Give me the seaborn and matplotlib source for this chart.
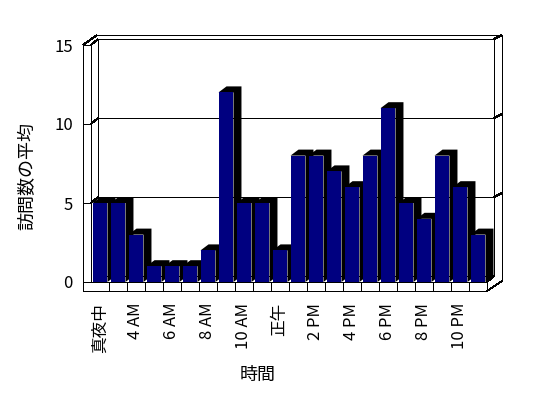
import matplotlib
matplotlib.use("Agg")
import matplotlib.pyplot as plt
from matplotlib.transforms import Affine2D
from matplotlib.patches import Polygon
import seaborn as sns
import pandas as pd

# ---- data ----
hours = ["真夜中", "1 AM", "4 AM", "5 AM", "6 AM", "7 AM", "8 AM", "9 AM",
         "10 AM", "11 AM", "正午", "1 PM", "2 PM", "3 PM", "4 PM", "5 PM",
         "6 PM", "7 PM", "8 PM", "9 PM", "10 PM", "11 PM"]
visits = [5, 5, 3, 1, 1, 1, 2, 12, 5, 5, 2, 8, 8, 7, 6, 8, 11, 5, 4, 8, 6, 3]
y_ticks = [0, 5, 10, 15]
x_title = "時間"
y_title = "訪問数の平均"

sns.set_theme(style="white")
plt.rcParams['font.family'] = ['Noto Sans CJK JP', 'DejaVu Sans']

W, H = 548, 398
fig = plt.figure(figsize=(W / 100, H / 100), dpi=100)
ax = fig.add_axes([91 / W, (H - 282) / H, 396 / W, 237 / H])

df = pd.DataFrame({"hour": hours, "visits": visits})
sns.barplot(data=df, x="hour", y="visits", color="#000080", saturation=1,
            width=0.83, ax=ax, zorder=3, edgecolor="none", linewidth=0)

n = len(hours)
ax.set_xlim(-0.5, n - 0.5)
ax.set_ylim(0, 15)
for s in ax.spines.values():
    s.set_visible(False)
ax.grid(False)

fig.canvas.draw()
p0 = ax.transData.transform((0, 0))
p1 = ax.transData.transform((1, 1))
sx, sy = p1[0] - p0[0], p1[1] - p0[1]

# bar depth (black side/top)
bdx, bdy = 8 / sx, 6 / sy
for p in list(ax.patches):
    x0, w, h = p.get_x(), p.get_width(), p.get_height()
    x1 = x0 + w
    verts = [(x0, h), (x0 + bdx, h + bdy), (x1 + bdx, h + bdy),
             (x1 + bdx, bdy), (x1, 0), (x1, h)]
    ax.add_patch(Polygon(verts, closed=True, facecolor="black",
                         edgecolor="none", zorder=2, clip_on=False))


def T(dx, dy):
    return ax.transData + Affine2D().translate(dx, dy)


def seg(pa, oa, pb, ob, z=1):
    # draw segment between data point pa (pixel offset oa) and pb (offset ob)
    a = T(*oa).transform(pa)
    b = T(*ob).transform(pb)
    inv = ax.transData.inverted()
    a, b = inv.transform(a), inv.transform(b)
    ax.plot([a[0], b[0]], [a[1], b[1]], color="black", lw=0.72,
            zorder=z, clip_on=False, solid_capstyle="butt",
            antialiased=False)


xl, xr = -0.5, n - 0.5
IN = (7, 6)
OUT = (15, 10)
# back wall inner face
seg((xl, 15), IN, (xr, 15), IN)
seg((xl, 0), IN, (xl, 15), IN)
seg((xr, 0), IN, (xr, 15), IN)
seg((xl, 0), IN, (xr, 0), IN)
for g in y_ticks[1:-1]:
    seg((xl, g), IN, (xr, g), IN)
    seg((xl, g), (0, 0), (xl, g), IN)
    seg((xr, g), IN, (xr, g), OUT, z=4)
# top-left corner and outer top/right
seg((xl, 15), (0, 0), (xl, 15), IN, z=4)
seg((xl, 15), (-8, 0), (xl, 15), (6, 10), z=4)
seg((xl, 15), (6, 10), (xr, 15), OUT, z=4)
seg((xr, 15), IN, (xr, 15), OUT, z=4)
seg((xr, 15), OUT, (xr, 0), (15, 1), z=4)
seg((xr, 0), (15, 1), (xr, 0), (0, -9), z=4)
seg((xr, 0), (0, 0), (xr, 0), IN, z=4)
# left wall front face
seg((xl, 15), (-8, 0), (xl, 0), (-8, -9), z=4)
seg((xl, 15), (0, 0), (xl, 0), (0, 0), z=4)
seg((xl, 15), (-8, 0), (xl, 15), (0, 0), z=4)
for g in y_ticks[1:-1]:
    seg((xl, g), (-8, 0), (xl, g), (0, 0), z=4)
# floor front face
seg((xl, 0), (-8, 0), (xr, 0), (0, 0), z=4)
seg((xl, 0), (-8, -9), (xr, 0), (0, -9), z=4)
seg((xr, 0), (0, 0), (xr, 0), (0, -9), z=4)
for i in range(n - 1):
    seg((i + 0.5, 0), (0, 0), (i + 0.5, 0), (0, -9), z=4)

# ticks and labels
ax.set_yticks(y_ticks)
ax.set_yticklabels([str(v) for v in y_ticks])
ax.set_xticks(range(n))
ax.set_xticklabels([h if i % 2 == 0 else "" for i, h in enumerate(hours)],
                   rotation=90)
ax.tick_params(axis="x", length=0, pad=15, labelsize=12, colors="black")
ax.tick_params(axis="y", length=0, pad=13, labelsize=12, colors="black")

ax.set_xlabel(x_title, fontsize=13, color="black")
ax.set_ylabel(y_title, fontsize=13, color="black")
ax.xaxis.label.set_va("center")
ax.yaxis.label.set_va("center")
ax.xaxis.set_label_coords((258 - 91) / 396, ((H - 375) - 116) / 237)
ax.yaxis.set_label_coords((27 - 91) / 396, ((H - 176) - 116) / 237)

fig.savefig("out.png", dpi=100, facecolor="white")
